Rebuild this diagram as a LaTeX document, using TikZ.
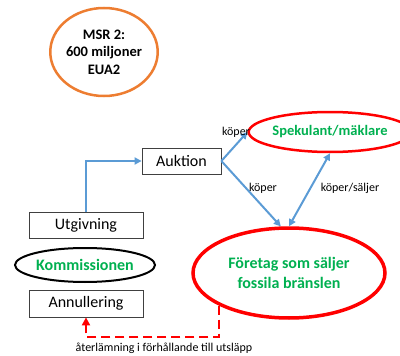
\documentclass[tikz,border=0pt]{standalone}
\usepackage{fontspec}
\setmainfont{Carlito}
\usetikzlibrary{arrows.meta,shapes.geometric,calc}
\definecolor{msrorange}{HTML}{ED7D31}
\definecolor{arrowblue}{HTML}{5B9BD5}
\definecolor{txtgreen}{HTML}{00B050}
\definecolor{boxgray}{HTML}{404040}
\tikzset{
  boxnode/.style={draw=boxgray, line width=0.8pt, minimum width=114pt, minimum height=26pt, inner sep=0pt, font=\fontsize{16}{18}\selectfont},
  ellnode/.style={ellipse, inner sep=0pt, align=center},
  bluearrow/.style={draw=arrowblue, line width=2pt, -{Triangle[length=7pt,width=7pt]}},
  bluedouble/.style={draw=arrowblue, line width=2pt, {Triangle[length=7pt,width=7pt]}-{Triangle[length=7pt,width=7pt]}},
  reddash/.style={draw=red, line width=2.4pt, dash pattern=on 9pt off 5pt, -{Triangle[length=8pt,width=8pt]}},
  lbl/.style={font=\fontsize{12}{14}\selectfont, inner sep=0pt}
}
\begin{document}
\begin{tikzpicture}[x=1pt,y=-1pt]
\useasboundingbox (0,0) rectangle (400,356);
% MSR
\node[ellnode, draw=msrorange, line width=2.5pt, minimum width=98pt, minimum height=88pt,
      font=\bfseries\fontsize{14.5}{17.5}\selectfont] (msr) at (104,52) {MSR 2:\\600 miljoner\\EUA2};
% boxes
\node[boxnode, minimum width=79pt] (auk) at (181.5,161) {Auktion};
\node[boxnode] (utg) at (86,225) {Utgivning};
\node[boxnode, minimum height=27pt] (ann) at (86,303.5) {Annullering};
% Kommissionen
\node[ellnode, draw=black, line width=2pt, minimum width=140pt, minimum height=34pt,
      text=txtgreen, font=\bfseries\fontsize{16}{18}\selectfont] (kom) at (85,265) {Kommissionen};
% Spekulant
\node[ellnode, draw=red, line width=2.5pt, minimum width=136pt, minimum height=40pt,
      text=txtgreen, font=\bfseries\fontsize{14.5}{17}\selectfont] (spek) at (330,132) {Spekulant/mäklare};
% Foretag
\node[ellnode, draw=red, line width=3.5pt, minimum width=192pt, minimum height=90pt,
      text=txtgreen, font=\bfseries\fontsize{16}{20}\selectfont] (fore) at (289,273) {Företag som säljer\\fossila bränslen};
% connectors
\draw[bluearrow] (utg.north) |- (auk.west);
\draw[bluearrow] (auk.east) -- (spek.west);
\draw[bluearrow] (auk.east) -- (fore.100);
\draw[bluedouble] (fore.north) -- (spek.south);
\coordinate (dashlevel) at (0,337);
\draw[reddash] (fore.205) -- (fore.205 |- dashlevel) -| (ann.south);
% labels
\node[lbl] (l1) at (236,132) {köper};
\node[lbl] (l2) at (263,188) {köper};
\node[lbl] (l3) at (350,188) {köper/säljer};
\node[lbl] (l4) at (164,348) {återlämning i förhållande till utsläpp};
\end{tikzpicture}
\end{document}
